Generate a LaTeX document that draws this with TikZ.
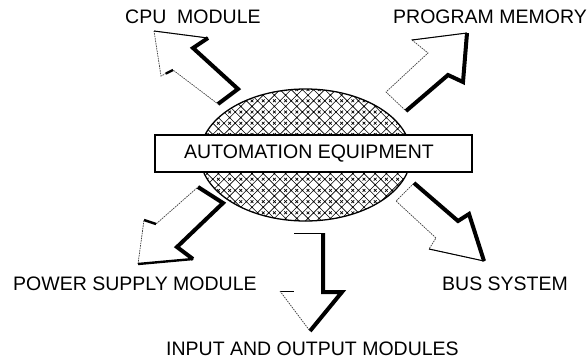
\documentclass[tikz,border=0pt]{standalone}
\usepackage{fontspec}
\setmainfont{Liberation Sans}
\usetikzlibrary{shapes.geometric,calc}

\begin{document}
\begin{tikzpicture}[x=1pt,y=-1pt,
  lbl/.style={font=\fontsize{19.5}{20}\selectfont, inner sep=0pt, anchor=base west},
  lite/.style={draw=black!75, line width=0.7pt, dash pattern=on 1.6pt off 0.9pt},
  heavy/.style={draw=black, line width=4pt, line join=miter, line cap=butt},
  medium/.style={draw=black, line width=2.4pt, line cap=butt},
  edge/.style={draw=black, line width=1pt},
  hatch/.style={draw=black, line width=0.6pt}]
\useasboundingbox (0,0) rectangle (588,362);

% cross-hatched core behind the title box
\def\hs{5.6}
\begin{scope}
  \clip (305.5,155) ellipse [x radius=105.5, y radius=66];
  \foreach \i in {24,...,58} {
    \pgfmathsetmacro\cc{2*\hs*\i}
    \draw[hatch] (\cc-240,240) -- (\cc-70,70);
  }
  \foreach \j in {-4,...,30} {
    \pgfmathsetmacro\cc{2*\hs*\j}
    \draw[hatch] (\cc+70,70) -- (\cc+240,240);
  }
  \foreach \i in {24,...,58} {
    \foreach \j in {-4,...,30} {
      \pgfmathsetmacro\px{\hs*(\i+\j)}
      \pgfmathsetmacro\py{\hs*(\i-\j)}
      \fill (\px,\py) circle[radius=0.9];
    }
    \pgfmathtruncatemacro\js{-4+mod(\i,2)}
    \pgfmathtruncatemacro\jn{\js+2}
    \foreach \j in {\js,\jn,...,30} {
      \pgfmathsetmacro\px{\hs*(\i+\j+1)}
      \pgfmathsetmacro\py{\hs*(\i-\j)}
      \draw[line width=0.7pt] (\px-1.4,\py-1.4) -- (\px+1.4,\py+1.4)
                              (\px-1.4,\py+1.4) -- (\px+1.4,\py-1.4);
    }
  }
\end{scope}
\node[ellipse, draw, line width=1.3pt, minimum width=211pt, minimum height=132pt,
      inner sep=0pt] (hub) at (305.5,155) {};

% arrow to the CPU module
\coordinate (c1) at (154,31);  \coordinate (c2) at (208,38);
\coordinate (c3) at (193,48);  \coordinate (c4) at (238,89);
\coordinate (c5) at (218,104); \coordinate (c6) at (173,70);
\coordinate (c7) at (161,76);
\fill[white] (c1)--(c2)--(c3)--(c4)--(c5)--(c6)--(c7)--cycle;
\draw[lite] (c1)--(c2)--(c3)--(c4)--(c5)--(c6)--(c7)--cycle;
\draw[edge] (c1)--(c2);
\draw[heavy] (c2)--(c3)--(c4)--(c5);
\draw[medium] ($(c7)!0.4!(c6)$) -- (c6);

% arrow to the program memory
\coordinate (p1) at (467,33);  \coordinate (p2) at (463,82);
\coordinate (p3) at (448,75);  \coordinate (p4) at (406,111);
\coordinate (p5) at (386,92);  \coordinate (p6) at (428,53);
\coordinate (p7) at (412,40);
\fill[white] (p1)--(p2)--(p3)--(p4)--(p5)--(p6)--(p7)--cycle;
\draw[lite] (p1)--(p2)--(p3)--(p4)--(p5)--(p6)--(p7)--cycle;
\draw[edge] (p7)--(p1);
\draw[heavy] (p1)--(p2)--(p3)--(p4);

% arrow to the power supply module
\coordinate (s1) at (138,264); \coordinate (s2) at (144,220);
\coordinate (s3) at (156,224); \coordinate (s4) at (198,187);
\coordinate (s5) at (223,203); \coordinate (s6) at (177,247);
\coordinate (s7) at (193,259);
\fill[white] (s1)--(s2)--(s3)--(s4)--(s5)--(s6)--(s7)--cycle;
\draw[lite] (s1)--(s2)--(s3)--(s4)--(s5)--(s6)--(s7)--cycle;
\draw[heavy] (s4)--(s5)--(s6)--(s7);
\draw[medium] (s7)--(s1);
\draw[medium] (s2)--(s3);

% arrow to the bus system
\coordinate (b1) at (414,183); \coordinate (b2) at (458,221);
\coordinate (b3) at (469,214); \coordinate (b4) at (484,261);
\coordinate (b5) at (429,249); \coordinate (b6) at (436,238);
\coordinate (b7) at (396,201);
\fill[white] (b1)--(b2)--(b3)--(b4)--(b5)--(b6)--(b7)--cycle;
\draw[lite] (b1)--(b2)--(b3)--(b4)--(b5)--(b6)--(b7)--cycle;
\draw[edge] (b5)--(b4);
\draw[heavy] (b1)--(b2)--(b3)--(b4);

% arrow to the input and output modules
\coordinate (o1) at (294,233); \coordinate (o2) at (323,233);
\coordinate (o3) at (323,292); \coordinate (o4) at (342,292);
\coordinate (o5) at (310,331); \coordinate (o6) at (280,291);
\coordinate (o7) at (294,291);
\fill[white] (o1)--(o2)--(o3)--(o4)--(o5)--(o6)--(o7)--cycle;
\draw[edge] (o1)--(o2);
\draw[heavy] (o2)--(o3)--(o4)--(o5);
\draw[edge] (o6)--(o7);
\draw[lite] (o6)--(o5);

% title box and labels
\node[draw, line width=1.3pt, fill=white, minimum width=317pt, minimum height=37pt,
      inner sep=0pt] (box) at (313.5,153.5) {};
\node[lbl] (title) at (184,158)  {AUTOMATION EQUIPMENT};
\node[lbl] (cpu)   at (125,23)  {CPU\ \ MODULE};
\node[lbl] (prog)  at (393,23)  {PROGRAM MEMORY};
\node[lbl] (power) at (13,290)  {POWER SUPPLY MODULE};
\node[lbl] (bus)   at (442,290) {BUS SYSTEM};
\node[lbl] (io)    at (166,355) {INPUT AND OUTPUT MODULES};
\end{tikzpicture}
\end{document}
